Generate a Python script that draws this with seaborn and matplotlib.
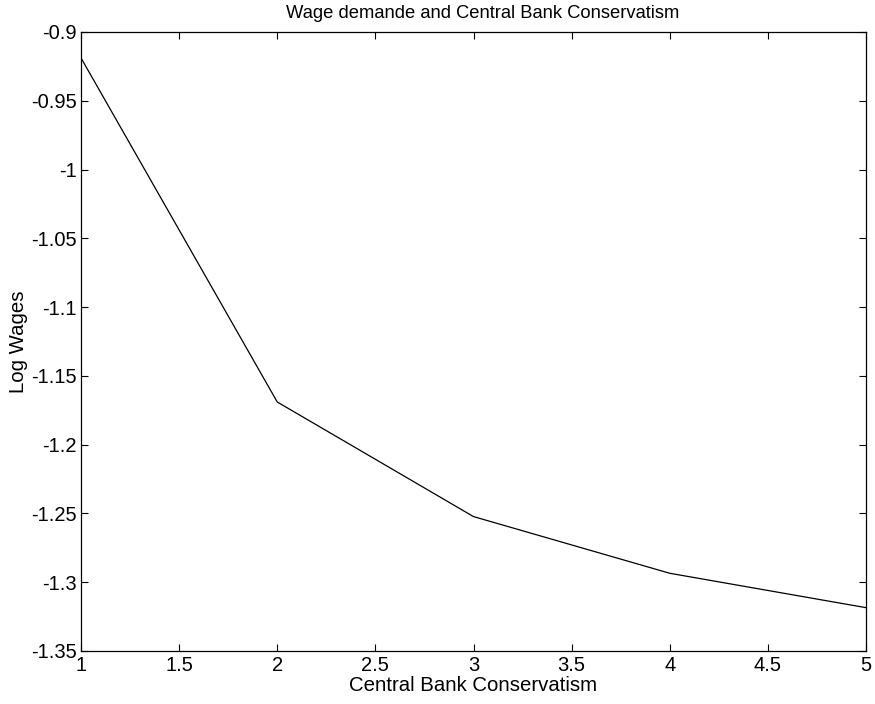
# Wage demands against central bank conservatism
import pandas as pd
import matplotlib
matplotlib.use("Agg")
import matplotlib.pyplot as plt
import seaborn as sns

conservatism = [1, 2, 3, 4, 5]
log_wages = [-0.9189, -1.169, -1.2523, -1.2935, -1.3185]

df = pd.DataFrame({"conservatism": conservatism, "log_wages": log_wages})

sns.set_style("ticks")
plt.rcParams["font.family"] = ["Liberation Sans", "DejaVu Sans"]
plt.rcParams["text.color"] = "black"
plt.rcParams["axes.labelcolor"] = "black"

fig = plt.figure(figsize=(8.75, 7.04), dpi=100)
ax = fig.add_axes([0.0926, 0.0753, 0.8971, 0.8793])
sns.lineplot(data=df, x="conservatism", y="log_wages", color="black", linewidth=0.9, ax=ax)

ax.set_xlim(1, 5)
ax.set_ylim(-1.35, -0.9)
ax.set_xticks([1, 1.5, 2, 2.5, 3, 3.5, 4, 4.5, 5])
ax.set_xticklabels(["1", "1.5", "2", "2.5", "3", "3.5", "4", "4.5", "5"])
yt = [-1.35, -1.3, -1.25, -1.2, -1.15, -1.1, -1.05, -1, -0.95, -0.9]
ax.set_yticks(yt)
ax.set_yticklabels(["-1.35", "-1.3", "-1.25", "-1.2", "-1.15", "-1.1", "-1.05", "-1", "-0.95", "-0.9"])
ax.tick_params(direction="in", length=5, width=0.8, top=True, right=True, labelsize=14.5, colors="black")
ax.tick_params(axis="x", pad=3.5)
ax.tick_params(axis="y", pad=3)
for s in ax.spines.values():
    s.set_visible(True)
    s.set_linewidth(0.9)
    s.set_color("black")

ax.set_xlabel("Central Bank Conservatism", fontsize=14.7, labelpad=1)
ax.set_ylabel("Log Wages", fontsize=14.7, labelpad=2)
ax.set_title("Wage demande and Central Bank Conservatism", fontsize=13.2, pad=10, x=0.512)

fig.savefig("out.png", dpi=100)
